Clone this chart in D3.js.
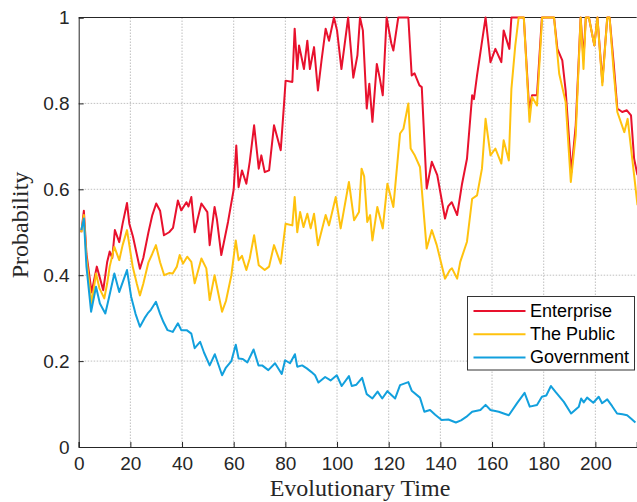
<!DOCTYPE html>
<html>
<head>
<meta charset="utf-8">
<script src="https://cdn.jsdelivr.net/npm/d3@7"></script>
<style>
  body { margin: 0; background: #fff; }
  .tick text { font-family: "Liberation Sans", Arial, sans-serif; font-size: 19px; fill: #262626; }
  .axLabel { font-family: "Liberation Serif", "Times New Roman", serif; font-size: 24px; fill: #262626; }
  .legText { font-family: "Liberation Sans", Arial, sans-serif; font-size: 18px; fill: #000; }
</style>
</head>
<body>
<div id="chart"></div>
<script>
// series: [time, probability]
var enterprise = [[1,0.50],[2,0.55],[3,0.45],[5,0.36],[7,0.42],[9.5,0.365],[11,0.43],[12,0.455],[13,0.44],[14,0.505],[15.7,0.477],[17,0.52],[18.7,0.568],[19.6,0.52],[21,0.49],[23.7,0.415],[25,0.44],[27,0.50],[28.5,0.54],[30,0.567],[31.5,0.55],[33,0.493],[35,0.50],[36.5,0.51],[38.4,0.574],[39.7,0.551],[41.7,0.57],[42.5,0.56],[43.6,0.582],[44.9,0.50],[46,0.53],[47.5,0.567],[49.8,0.547],[50.7,0.47],[52.6,0.559],[53.5,0.53],[55.2,0.447],[57.8,0.524],[60,0.60],[61,0.702],[61.9,0.605],[63.2,0.644],[64.9,0.613],[66.2,0.664],[67.9,0.749],[69.7,0.648],[70.7,0.679],[72,0.64],[73.7,0.644],[75.6,0.749],[78.2,0.691],[79.5,0.80],[80.1,0.853],[82.7,0.85],[83.6,0.974],[84.6,0.88],[85.3,0.935],[87.2,0.88],[88.5,0.946],[89.5,0.88],[91.1,0.931],[92.6,0.83],[94,0.90],[95.6,0.974],[96.9,0.946],[98.8,1.0],[100,0.97],[101.7,0.88],[104.3,1.0],[106.3,0.86],[107.9,0.912],[108.9,1.0],[110,0.97],[111.5,0.788],[112.5,0.846],[113.7,0.757],[115.4,0.892],[116.5,0.86],[117.7,0.819],[119.2,1.0],[121,0.94],[121.8,0.923],[123.7,1.0],[127.6,1.0],[128.9,0.865],[130,0.87],[131.9,0.842],[132.8,0.838],[134.7,0.602],[136.7,0.664],[138.8,0.633],[141.8,0.532],[143,0.56],[144.4,0.57],[146.5,0.54],[148.4,0.613],[150.3,0.671],[152.3,0.819],[153,0.81],[154.2,0.865],[155.9,0.935],[157.5,1.0],[159.4,0.896],[161.3,0.927],[163.6,0.896],[164.5,0.97],[166.7,0.927],[167.5,1.0],[172.3,1.0],[174.4,0.784],[175.5,0.819],[177.4,0.819],[179.3,1.0],[184,1.0],[185.3,0.927],[187.2,0.9],[188.5,0.83],[190.7,0.64],[192.4,0.749],[194.3,1.0],[195.4,0.904],[196.3,1.0],[197.5,1.0],[199.6,0.935],[200.8,1.0],[202.7,0.85],[204.6,1.0],[205.5,1.0],[207.1,0.892],[208.5,0.788],[210.4,0.78],[212.2,0.784],[213.8,0.772],[215,0.671],[216.3,0.633]];

var thePublic = [[1,0.50],[2,0.54],[3,0.44],[5,0.334],[6.7,0.404],[8,0.37],[9.9,0.346],[11,0.38],[12,0.42],[13.8,0.466],[15.7,0.435],[17,0.47],[18.7,0.505],[20.9,0.42],[22.5,0.38],[23.7,0.353],[25,0.38],[27,0.43],[28.5,0.45],[29.9,0.47],[31.5,0.43],[33.1,0.40],[35,0.405],[36.4,0.404],[38,0.42],[39.1,0.447],[40.4,0.427],[42,0.443],[43.6,0.431],[44.9,0.381],[47.5,0.439],[49.4,0.416],[50.7,0.342],[52.6,0.40],[55.5,0.315],[57,0.34],[59.1,0.40],[60.8,0.481],[61.9,0.435],[63.2,0.445],[64.9,0.412],[66.2,0.439],[67.9,0.493],[69.7,0.423],[72,0.412],[73.7,0.42],[75.6,0.47],[78.2,0.427],[80.1,0.52],[82.7,0.516],[83.6,0.582],[84.6,0.50],[85.7,0.547],[87,0.512],[88.5,0.543],[89.8,0.509],[91.1,0.543],[92.6,0.47],[95.6,0.54],[96.9,0.516],[99.5,0.582],[101.4,0.509],[104.6,0.617],[106.6,0.528],[108.5,0.547],[109.5,0.648],[110.5,0.63],[111.7,0.524],[112.8,0.54],[113.7,0.481],[115.6,0.559],[117.7,0.509],[119.5,0.613],[121.8,0.559],[124.4,0.73],[125.7,0.741],[127.6,0.80],[128.5,0.695],[130,0.68],[132.1,0.652],[134.7,0.462],[136.7,0.505],[138.6,0.47],[141.8,0.392],[143.7,0.412],[144.5,0.416],[146.5,0.392],[147.7,0.431],[150.3,0.478],[152.3,0.578],[154.2,0.586],[156.1,0.648],[157.5,0.764],[159.4,0.679],[161.3,0.695],[163.6,0.66],[164.5,0.714],[166.5,0.667],[167.5,0.834],[169,0.935],[170.3,1.0],[172.3,1.0],[174.5,0.757],[175.5,0.815],[177.4,0.795],[179.4,1.0],[184,1.0],[186,0.869],[188.5,0.803],[190.5,0.617],[192.4,0.726],[194.3,1.0],[195.4,0.88],[196.3,1.0],[197.5,1.0],[199.6,0.935],[200.8,1.0],[202.7,0.842],[204.6,1.0],[205.5,1.0],[207,0.88],[208.5,0.78],[211.2,0.733],[212.5,0.764],[215,0.633],[216.3,0.563]];

var government = [[1,0.505],[2,0.532],[3,0.42],[4.8,0.315],[6.7,0.373],[8.2,0.334],[10.3,0.311],[11.8,0.35],[13.8,0.404],[15.7,0.361],[18.7,0.412],[20.3,0.35],[22,0.31],[23.7,0.28],[25.5,0.30],[26.7,0.311],[28,0.32],[29.9,0.338],[31.5,0.31],[32.8,0.291],[34.4,0.272],[36.4,0.268],[38.4,0.288],[39.7,0.272],[41.8,0.272],[43.6,0.264],[44.9,0.23],[47,0.245],[48.5,0.22],[50.7,0.19],[52.7,0.216],[55.5,0.167],[57,0.185],[59.1,0.20],[60.8,0.238],[61.9,0.206],[63.5,0.205],[65.3,0.197],[67.7,0.227],[69.6,0.19],[71,0.19],[73.4,0.179],[76,0.195],[78.6,0.17],[79.9,0.202],[81.8,0.195],[83.7,0.216],[84.6,0.187],[86.5,0.19],[88.3,0.183],[90,0.175],[91.5,0.167],[92.8,0.15],[95.4,0.163],[97.5,0.155],[99.9,0.167],[101.8,0.142],[104.6,0.165],[105.7,0.142],[107.5,0.145],[109.7,0.161],[111.5,0.123],[113.7,0.113],[115.7,0.129],[117.5,0.113],[119.5,0.13],[122.5,0.113],[124.4,0.144],[127.6,0.151],[128.9,0.131],[132.1,0.115],[133.8,0.082],[136,0.086],[138,0.075],[140.5,0.063],[143.1,0.064],[146,0.057],[148,0.062],[150,0.07],[152.3,0.082],[155.5,0.086],[157.5,0.098],[159.4,0.086],[162.6,0.082],[164.5,0.078],[166.5,0.074],[169.7,0.102],[172.6,0.126],[174.6,0.094],[177.4,0.098],[179.3,0.117],[181,0.12],[182.8,0.142],[184.5,0.129],[187.8,0.105],[190.6,0.078],[193.6,0.094],[194.5,0.113],[195.5,0.104],[196.8,0.115],[199.2,0.103],[201.3,0.117],[202.6,0.102],[204.6,0.111],[206.5,0.095],[208.4,0.078],[210.5,0.076],[212.3,0.074],[214,0.065],[215.5,0.057]];

var seriesNames = ["Enterprise", "The Public", "Government"];
var seriesColors = ["#E8112D", "#FFC20E", "#12A0DD"];
var xTicks = [0, 20, 40, 60, 80, 100, 120, 140, 160, 180, 200];
var yTicks = [0, 0.2, 0.4, 0.6, 0.8, 1];

var svgWidth = 637;
var svgHeight = 502;
var margin = { top: 17.5, right: 0.3, bottom: 55, left: 78.7 };
var width = svgWidth - margin.left - margin.right;
var height = svgHeight - margin.top - margin.bottom;

var svg = d3.select("#chart")
  .append("svg")
  .attr("width", svgWidth)
  .attr("height", svgHeight);

var g = svg.append("g")
  .attr("transform", `translate(${margin.left}, ${margin.top})`);

var xScale = d3.scaleLinear().domain([0, 216]).range([0, width]);
var yScale = d3.scaleLinear().domain([0, 1]).range([height, 0]);

// dotted grid
g.selectAll(".gx").data(xTicks.slice(1)).enter()
  .append("line")
  .attr("x1", d => xScale(d)).attr("x2", d => xScale(d))
  .attr("y1", 0).attr("y2", height)
  .attr("stroke", "#b0b0b0").attr("stroke-width", 0.8)
  .attr("stroke-dasharray", "1.5,1.5");

g.selectAll(".gy").data(yTicks.slice(1)).enter()
  .append("line")
  .attr("x1", 0).attr("x2", width)
  .attr("y1", d => yScale(d)).attr("y2", d => yScale(d))
  .attr("stroke", "#b0b0b0").attr("stroke-width", 0.8)
  .attr("stroke-dasharray", "1.5,1.5");

// axes
var bottomAxis = d3.axisBottom(xScale).tickValues(xTicks).tickSize(-5).tickPadding(10).tickFormat(d3.format("d"));
var leftAxis = d3.axisLeft(yScale).tickValues(yTicks).tickSize(-5).tickPadding(9).tickFormat(d => d === 0 || d === 1 ? d : d3.format(".1f")(d));

var xAx = g.append("g")
  .attr("transform", `translate(0, ${height})`)
  .call(bottomAxis);
var yAx = g.append("g").call(leftAxis);
[xAx, yAx].forEach(function(a) {
  a.select(".domain").attr("stroke", "#262626").attr("stroke-width", 1);
  a.selectAll(".tick line").attr("stroke", "#262626");
});

// top border
g.append("line")
  .attr("x1", 0).attr("x2", width)
  .attr("y1", 0).attr("y2", 0)
  .attr("stroke", "#262626").attr("stroke-width", 1);

// lines
var line = d3.line()
  .x(d => xScale(d[0]))
  .y(d => yScale(d[1]));

[enterprise, thePublic, government].forEach(function(data, i) {
  g.append("path")
    .datum(data)
    .attr("fill", "none")
    .attr("stroke", seriesColors[i])
    .attr("stroke-width", 2)
    .attr("stroke-linejoin", "round")
    .attr("d", line);
});

// axis labels
svg.append("text")
  .attr("class", "axLabel")
  .attr("text-anchor", "middle")
  .attr("x", 360)
  .attr("y", 496)
  .text("Evolutionary Time");

svg.append("text")
  .attr("class", "axLabel")
  .attr("text-anchor", "middle")
  .attr("transform", "translate(28, 225) rotate(-90)")
  .text("Probability");

// legend
var legend = svg.append("g");
legend.append("rect")
  .attr("x", 467.5).attr("y", 296.5)
  .attr("width", 167).attr("height", 73.5)
  .attr("fill", "#fff").attr("stroke", "#333").attr("stroke-width", 1);

seriesNames.forEach(function(name, i) {
  var yy = 311 + i * 23.2;
  legend.append("line")
    .attr("x1", 473.5).attr("x2", 525.5)
    .attr("y1", yy).attr("y2", yy)
    .attr("stroke", seriesColors[i]).attr("stroke-width", 2);
  legend.append("text")
    .attr("class", "legText")
    .attr("x", 530)
    .attr("y", yy + 6)
    .text(name);
});
</script>
</body>
</html>
